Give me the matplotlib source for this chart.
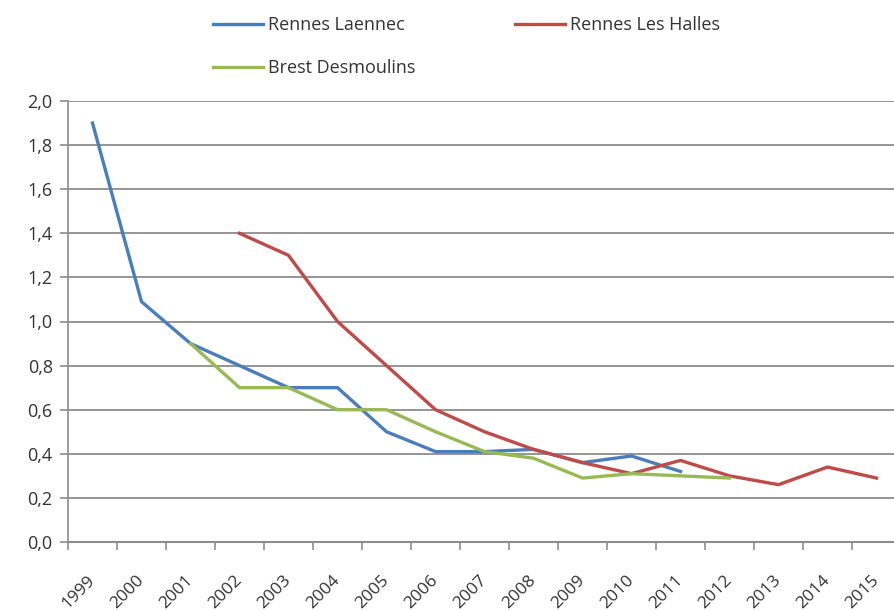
import numpy as np
import matplotlib.pyplot as plt
from matplotlib.ticker import FuncFormatter, FixedLocator

years = [str(y) for y in range(1999, 2016)]
nan = np.nan
laennec = [1.90, 1.09, 0.90, 0.80, 0.70, 0.70, 0.50, 0.41, 0.41, 0.42, 0.36, 0.39, 0.32,
           nan, nan, nan, nan]
halles = [nan, nan, nan, 1.40, 1.30, 1.00, 0.80, 0.60, 0.50, 0.42, 0.36, 0.31, 0.37,
          0.30, 0.26, 0.34, 0.29]
desmoulins = [nan, nan, 0.90, 0.70, 0.70, 0.60, 0.60, 0.50, 0.41, 0.38, 0.29, 0.31, 0.30,
              0.29, nan, nan, nan]

plt.rcParams['font.family'] = ['Open Sans', 'DejaVu Sans']

fig = plt.figure(figsize=(8.94, 6.11), dpi=100)
# plot area runs a bit past the right edge, like the cropped original
ax = fig.add_axes([68/894, 69/611, 833/894, 441/611])

x = np.arange(len(years))
l1, = ax.plot(x, laennec, color='#4a7ebb', lw=2.4, label='Rennes Laennec')
l2, = ax.plot(x, halles, color='#be4b48', lw=2.4, label='Rennes Les Halles')
l3, = ax.plot(x, desmoulins, color='#98b954', lw=2.4, label='Brest Desmoulins')

ax.set_xlim(-0.5, len(years) - 0.5)
ax.set_ylim(0, 2.0)
ax.set_yticks(np.arange(0, 2.01, 0.2))
ax.yaxis.set_major_formatter(FuncFormatter(lambda v, p: ('%.1f' % v).replace('.', ',')))
ax.grid(axis='y', color='#8c8c8c', lw=1.3)
ax.set_axisbelow(True)

# category ticks between points, labels under points
ax.xaxis.set_major_locator(FixedLocator(np.arange(-0.5, len(years), 1.0)))
ax.xaxis.set_minor_locator(FixedLocator(x))
ax.set_xticklabels([''] * len(ax.get_xticks()))
ax.set_xticklabels(years, minor=True, rotation=45, ha='right', va='center',
                   rotation_mode='anchor')
ax.tick_params(axis='x', which='major', length=6, color='#8c8c8c', width=1.2)
ax.tick_params(axis='x', which='minor', length=0, pad=26, labelsize=12.5, labelcolor='#333333')
ax.tick_params(axis='y', length=6, color='#8c8c8c', width=1.2, labelsize=13, labelcolor='#333333', pad=5)

for s in ['top', 'right']:
    ax.spines[s].set_visible(False)
ax.spines['left'].set_color('#8c8c8c')
ax.spines['bottom'].set_color('#8c8c8c')
ax.spines['left'].set_linewidth(1.2)
ax.spines['bottom'].set_linewidth(1.5)

fig.legend(handles=[l1, l3, l2], ncol=2, frameon=False, loc='upper left',
           bbox_to_anchor=(213/894, 0.974), fontsize=13, handlelength=2.75,
           handletextpad=0.28, columnspacing=5.55, labelspacing=1.39,
           borderpad=0, borderaxespad=0, labelcolor='#333333')

fig.savefig('out.png', dpi=100)
